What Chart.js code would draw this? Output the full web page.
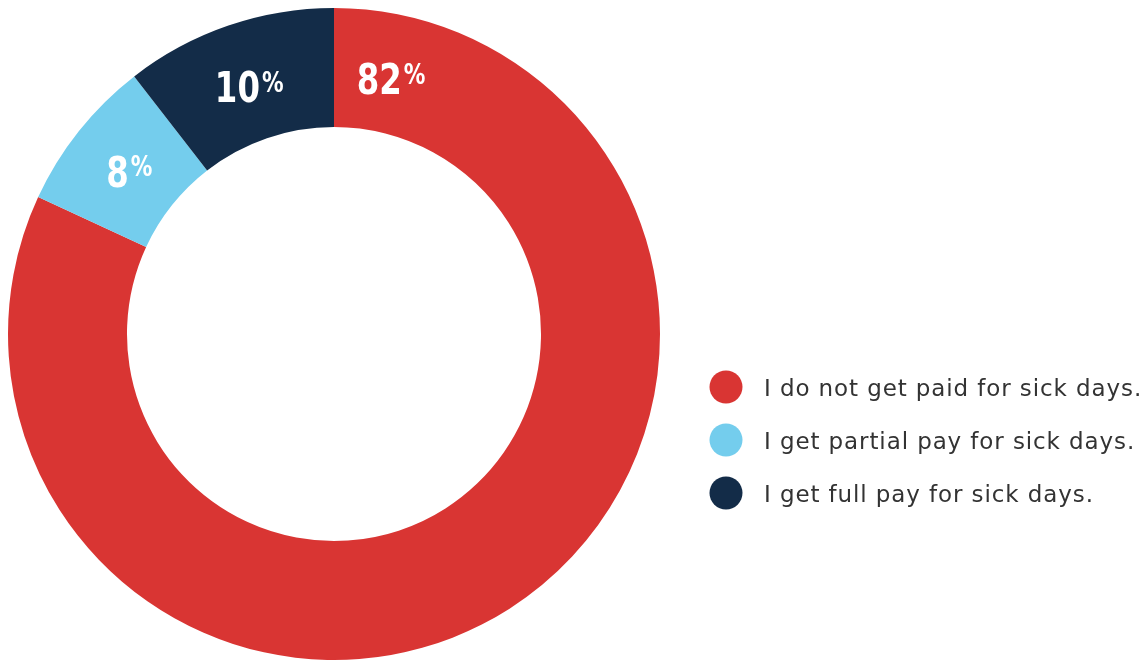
<!DOCTYPE html>
<html>
<head>
<meta charset="utf-8">
<script src="https://cdn.jsdelivr.net/npm/chart.js@4/dist/chart.umd.min.js"></script>
<style>
  html, body { margin: 0; padding: 0; background: #fff; }
  #wrap { width: 1147px; height: 660px; }
</style>
</head>
<body>
<div id="wrap"><canvas id="pieChart" width="1147" height="660"></canvas></div>
<script>
var labels = ["I do not get paid for sick days.", "I get partial pay for sick days.", "I get full pay for sick days."];
var values = [81.9, 7.6, 10.5];      // slice sizes as drawn
var pctLabels = ['82', '8', '10'];   // printed percentages
var colors = ['#D93533', '#74CDED', '#132C48'];

// percent labels on the ring, condensed bold with a small raised %
var sliceLabels = {
    id: 'sliceLabels',
    afterDatasetsDraw: function (chart) {
        var ctx = chart.ctx;
        var meta = chart.getDatasetMeta(0);
        var numFont = 'bold 36px "DejaVu Sans Condensed", "DejaVu Sans"';
        var pctFont = 'bold 24px "DejaVu Sans Condensed", "DejaVu Sans"';
        var sy = 1.2;
        meta.data.forEach(function (arc, i) {
            var p = arc.getProps(['x', 'y', 'startAngle', 'endAngle', 'innerRadius', 'outerRadius'], true);
            var ang = (p.startAngle + p.endAngle) / 2;
            // big slice: label sits near its start, at the top
            if (p.endAngle - p.startAngle > Math.PI) ang = p.startAngle + 0.22;
            var r = p.innerRadius + (p.outerRadius - p.innerRadius) * 0.46;
            var cx = p.x + Math.cos(ang) * r;
            var cy = p.y + Math.sin(ang) * r;

            var num = pctLabels[i];
            ctx.save();
            ctx.fillStyle = '#fff';
            ctx.font = numFont;
            var wNum = ctx.measureText(num).width;
            ctx.font = pctFont;
            var wPct = ctx.measureText('%').width;
            var total = wNum + 2 + wPct;
            var x0 = cx - total / 2;
            var capNum = 36 * 0.729;
            var capPct = 24 * 0.729;
            ctx.translate(0, cy);
            ctx.scale(1, sy);
            ctx.textBaseline = 'alphabetic';
            ctx.textAlign = 'left';
            ctx.font = numFont;
            ctx.fillText(num, x0, capNum / 2);
            ctx.font = pctFont;
            ctx.fillText('%', x0 + wNum + 2, -capNum / 2 + capPct);
            ctx.restore();
        });
    }
};

// legend on the right, drawn from labels and colors
var sideLegend = {
    id: 'sideLegend',
    afterDraw: function (chart) {
        var ctx = chart.ctx;
        ctx.save();
        labels.forEach(function (lab, i) {
            var y = 387 + i * 53;
            ctx.beginPath();
            ctx.arc(726, y, 16.5, 0, Math.PI * 2);
            ctx.fillStyle = colors[i];
            ctx.fill();
            ctx.fillStyle = '#333';
            ctx.font = '23px "DejaVu Sans"';
            ctx.letterSpacing = '0.9px';
            ctx.textBaseline = 'alphabetic';
            ctx.textAlign = 'left';
            ctx.fillText(lab, 764, y + 9);
        });
        ctx.restore();
    }
};

var ctx2 = document.getElementById("pieChart").getContext("2d");
new Chart(ctx2, {
    type: 'doughnut',
    data: {
        labels: labels,
        datasets: [{
            data: values,
            backgroundColor: colors,
            borderWidth: 0,
            hoverOffset: 0
        }]
    },
    options: {
        responsive: false,
        animation: false,
        cutout: '63.5%',
        layout: { padding: { left: 8, top: 8, right: 487, bottom: 0 } },
        plugins: {
            legend: { display: false },
            tooltip: { enabled: false }
        }
    },
    plugins: [sliceLabels, sideLegend]
});
</script>
</body>
</html>
